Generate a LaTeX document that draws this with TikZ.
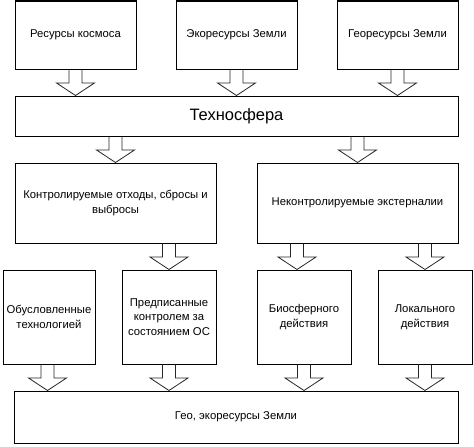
\documentclass[tikz,border=0pt]{standalone}
\usepackage{fontspec}
\setmainfont{Liberation Sans}
\usetikzlibrary{calc}
\tikzset{
  boxnode/.style={draw=black, line width=1pt, rectangle, align=center,
    inner sep=2pt, font=\fontsize{11.3}{14.5}\selectfont},
  hollowarrow/.style={draw=black!85, line width=0.8pt, line join=miter}
}
\newcommand\harrow[4][0]{%
  \draw[hollowarrow] let \p0=(#2.center), \p1=(#3.south), \p2=(#4.north) in
   (\x0+#1pt-6.5pt,\y1) -- (\x0+#1pt-6.5pt,\y2+12.5pt) -- (\x0+#1pt-19pt,\y2+12.5pt)
   -- (\x0+#1pt,\y2) -- (\x0+#1pt+19pt,\y2+12.5pt) -- (\x0+#1pt+6.5pt,\y2+12.5pt)
   -- (\x0+#1pt+6.5pt,\y1);}
\begin{document}
\begin{tikzpicture}[x=1pt,y=-1pt]
\useasboundingbox (0,0) rectangle (474,447);
% top row
\node[boxnode, minimum width=121pt, minimum height=68pt] (r1) at (75.5,35) {Ресурсы космоса};
\node[boxnode, minimum width=121pt, minimum height=68pt] (r2) at (236.5,35) {Экоресурсы Земли};
\node[boxnode, minimum width=121pt, minimum height=68pt] (r3) at (397.5,35) {Георесурсы Земли};
% technosphere
\node[boxnode, minimum width=443pt, minimum height=40pt, font=\fontsize{16.5}{20}\selectfont] (tech) at (236.5,116) {Техносфера};
% middle row
\node[boxnode, minimum width=201pt, minimum height=80pt] (m1) at (115.5,203) {Контролируемые отходы, сбросы и\\выбросы};
\node[boxnode, minimum width=201pt, minimum height=80pt] (m2) at (357.5,203) {Неконтролируемые экстерналии};
% bottom row
\node[boxnode, minimum width=92pt, minimum height=94pt] (b1) at (49,317) {Обусловленные\\технологией};
\node[boxnode, minimum width=94pt, minimum height=94pt] (b2) at (169,317) {Предписанные\\контролем за\\состоянием ОС};
\node[boxnode, minimum width=94pt, minimum height=94pt] (b3) at (304,317) {Биосферного\\действия};
\node[boxnode, minimum width=94pt, minimum height=94pt] (b4) at (425,317) {Локального\\действия};
% geo
\node[boxnode, minimum width=444pt, minimum height=52pt] (geo) at (236,417) {Гео, экоресурсы Земли};
% arrows
\harrow{r1}{r1}{tech}
\harrow{r2}{r2}{tech}
\harrow{r3}{r3}{tech}
\harrow{m1}{tech}{m1}
\harrow{m2}{tech}{m2}
\harrow{b2}{m1}{b2}
\harrow[-7]{b3}{m2}{b3}
\harrow{b4}{m2}{b4}
\harrow[-1.5]{b1}{b1}{geo}
\harrow{b2}{b2}{geo}
\harrow{b3}{b3}{geo}
\harrow{b4}{b4}{geo}
\end{tikzpicture}
\end{document}
